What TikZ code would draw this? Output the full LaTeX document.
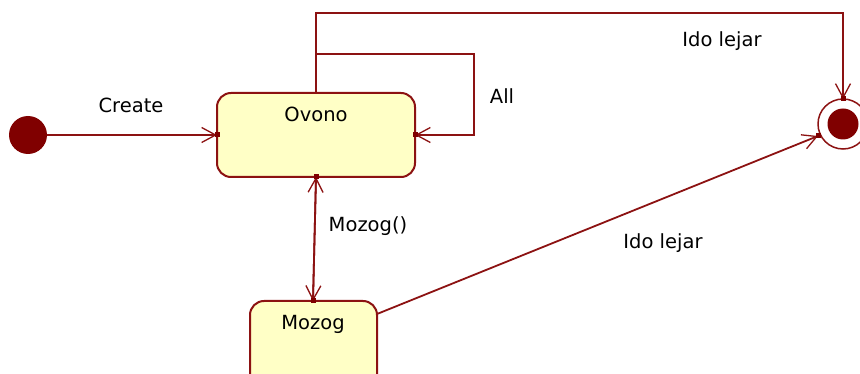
\documentclass[tikz,border=0pt]{standalone}
\usepackage{fontspec}
\setmainfont{DejaVu Sans}
\usetikzlibrary{arrows.meta}
\definecolor{umlline}{RGB}{140,18,18}
\definecolor{umldot}{RGB}{128,0,0}
\definecolor{umlfill}{RGB}{255,255,198}
\tikzset{
  statebox/.style={draw=umlline, line width=2pt, fill=umlfill, rounded corners=14pt},
  trans/.style={draw=umlline, line width=1.8pt},
  tip/.style={-{Straight Barb[length=14pt,width=15pt,line width=1.3pt]}},
  lbl/.style={font=\fontsize{19.5}{22}\selectfont, text=black, inner sep=0pt},
}
\begin{document}
\begin{tikzpicture}[x=1pt,y=-1pt]
  \useasboundingbox (0,0) rectangle (860,374);
  \clip (0,0) rectangle (860,374);

  % states
  \path[statebox] (217,93) rectangle (415,177);
  \node (ovono) [inner sep=0pt, minimum width=198pt, minimum height=84pt] at (316,135) {};
  \node[lbl] (ovonotxt) at (316,114) {Ovono};

  \path[statebox] (250,301) rectangle (377,400);
  \node (mozog) [inner sep=0pt, minimum width=127pt, minimum height=99pt] at (313.5,350.5) {};
  \node[lbl] (mozogtxt) at (313,324) {Mozog};

  % initial and final pseudo-states
  \node (init) [circle, fill=umldot, minimum size=38pt, inner sep=0pt] at (28,135) {};
  \node (final) [circle, draw=umlline, line width=1.5pt, fill=white, minimum size=50pt, inner sep=0pt] at (843,124) {};
  \node (finaldot) [circle, fill=umldot, minimum size=31pt, inner sep=0pt] at (843,124) {};

  % helper points
  \coordinate (ovtop) at (316,93);
  \coordinate (ovright) at (415,135);
  \coordinate (ovleft) at (217,135);
  \coordinate (ovbot) at (316,177);
  \coordinate (mztop) at (313,301);
  \coordinate (mzright) at (377,314);
  \coordinate (loopA) at (316,54);
  \coordinate (loopB) at (474,54);
  \coordinate (loopC) at (474,135);
  \coordinate (topA) at (316,13);
  \coordinate (topB) at (843,13);
  \coordinate (fintop) at (843,99);
  \coordinate (finleft) at (818,136);

  % transitions
  \draw[trans, tip] (init.east) -- (ovleft);
  \draw[trans, tip] (ovtop) -- (loopA) -- (loopB) -- (loopC) -- (ovright);
  \draw[trans, tip] (loopA) -- (topA) -- (topB) -- (fintop);
  \draw[trans, tip] (ovbot) -- (mztop);
  \draw[trans, tip] (mztop) -- (ovbot);
  \draw[trans, tip] (mzright) -- (finleft);

  % small squares where transitions meet their targets
  \foreach \p in {ovleft, ovright, ovbot, mztop, fintop, finleft}
    \fill[umldot] (\p) ++(-2.5,-2.5) rectangle ++(5,5);

  % labels
  \node[lbl] (lcreate) at (131,105) {Create};
  \node[lbl] (lall) at (502,96) {All};
  \node[lbl] (lido1) at (722,41) {Ido lejar};
  \node[lbl] (lmozog) at (368,226) {Mozog()};
  \node[lbl] (lido2) at (663,243) {Ido lejar};
\end{tikzpicture}
\end{document}
